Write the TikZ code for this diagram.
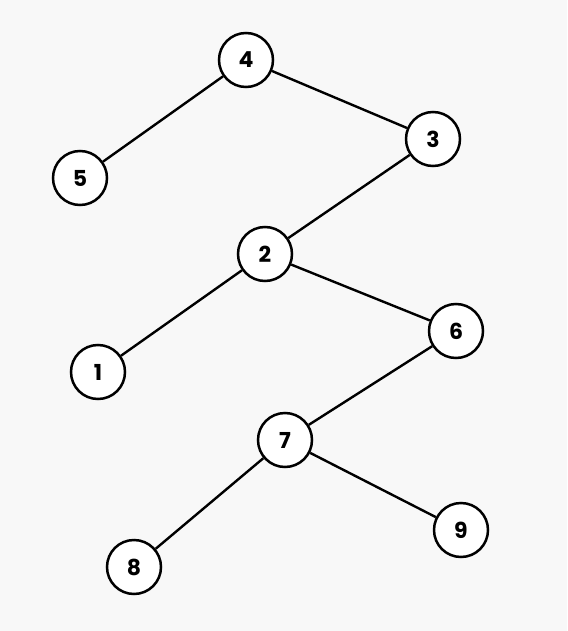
\documentclass[tikz,border=0pt]{standalone}
\usepackage{fontspec}
\setmainfont{Poppins}
\begin{document}
\begin{tikzpicture}[x=1pt,y=-1pt,
  tn/.style={circle,draw=black,fill=white,line width=2.5pt,minimum size=54pt,inner sep=0pt,font=\fontsize{22}{22}\selectfont\bfseries},
  ed/.style={draw=black,line width=2.4pt}]
\fill[fill={rgb,255:red,248;green,248;blue,248}] (0,0) rectangle (567,631);
\useasboundingbox (0,0) rectangle (567,631);
\node[tn] (n4) at (246,60) {4};
\node[tn] (n3) at (433,139) {3};
\node[tn] (n5) at (80,178) {5};
\node[tn] (n2) at (265,254) {2};
\node[tn] (n6) at (456,331) {6};
\node[tn] (n1) at (98,372) {1};
\node[tn] (n7) at (285,440) {7};
\node[tn] (n9) at (461,530) {9};
\node[tn] (n8) at (134,567) {8};
\draw[ed] (n4) -- (n5);
\draw[ed] (n4) -- (n3);
\draw[ed] (n3) -- (n2);
\draw[ed] (n2) -- (n1);
\draw[ed] (n2) -- (n6);
\draw[ed] (n6) -- (n7);
\draw[ed] (n7) -- (n8);
\draw[ed] (n7) -- (n9);
\end{tikzpicture}
\end{document}
